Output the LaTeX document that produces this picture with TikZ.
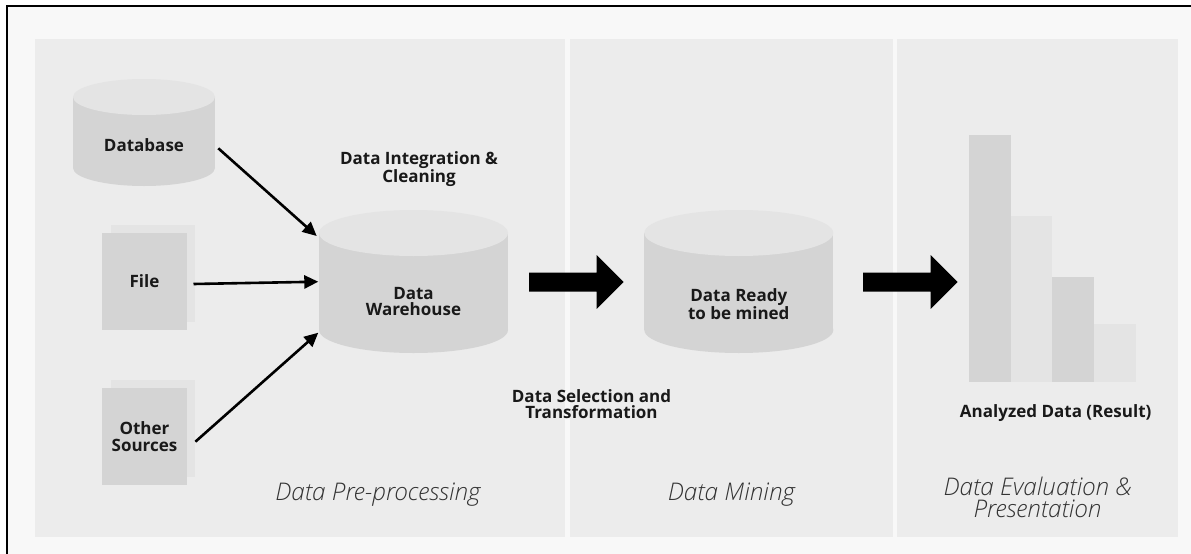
\documentclass[tikz,border=0pt]{standalone}
\usepackage{fontspec}
\setmainfont{Open Sans}
\newfontfamily\thinfont{Open Sans}[UprightFont=* Light, ItalicFont=* Light Italic]
\usetikzlibrary{arrows.meta,calc}

\definecolor{pagebg}{HTML}{F8F8F8}
\definecolor{panelbg}{HTML}{ECECEC}
\definecolor{shapedark}{HTML}{D4D4D4}
\definecolor{shapelight}{HTML}{E4E4E4}

% drum (database) symbol: centre x, top-face centre y, x radius, y radius, bottom-face centre y
\newcommand\drawdrum[5]{%
  \fill[shapedark] ({#1-#3},#2) rectangle ({#1+#3},#5);
  \fill[shapedark] (#1,#5) ellipse[x radius=#3, y radius=#4];
  \fill[shapelight] (#1,#2) ellipse[x radius=#3, y radius=#4];
}
% thick block arrow: left end of shaft, centre y
\newcommand\blockarrow[2]{%
  \fill[black] (#1,{#2-9.5}) -- ({#1+67.7},{#2-9.5}) -- ({#1+67.7},{#2-26.8})
    -- ({#1+94.5},#2) -- ({#1+67.7},{#2+26.8}) -- ({#1+67.7},{#2+9.5})
    -- (#1,{#2+9.5}) -- cycle;
}

\tikzset{
  boldlbl/.style={font=\bfseries\fontsize{17}{16.7}\selectfont, align=center,
    text=black!90, inner sep=0pt},
  stagelbl/.style={font=\thinfont\itshape\fontsize{24.3}{22}\selectfont, align=center,
    text=black!80, inner sep=0pt},
  sheet/.style={fill=shapedark, minimum width=84.4pt, minimum height=97.3pt,
    inner sep=0pt, font=\bfseries\fontsize{17}{16.7}\selectfont, align=center,
    text=black!90},
  feed/.style={line width=2.6pt, -{Triangle[length=14pt,width=13pt]}},
}

\begin{document}
\begin{tikzpicture}[x=1pt,y=-1pt]
  \useasboundingbox (0,0) rectangle (1191,554);
  \fill[white] (0,0) rectangle (1191,554);
  \fill[pagebg] (7,6) rectangle (1191,554);
  \draw[line width=2pt] (7,554) -- (7,6) -- (1191,6);

  % stage panels
  \fill[panelbg] (35,39) rectangle (565,537);
  \fill[panelbg] (570,39) rectangle (893,537);
  \fill[panelbg] (897,39) rectangle (1178,537);

  % sources
  \drawdrum{144}{97}{71}{18}{168}
  \node[boldlbl] (db) at (144,145) {Database};

  \fill[shapelight] (110.7,224.5) rectangle (195.1,321.8);
  \node[sheet] (file) at (144.5,281.4) {File};

  \fill[shapelight] (110.7,380.1) rectangle (195.1,477.4);
  \node[sheet] (other) at (144.5,436.4) {Other\\Sources};

  % warehouse and mining set
  \drawdrum{413.5}{233}{94.5}{23}{330}
  \node[boldlbl] (wh) at (413.5,301.5) {Data\\Warehouse};

  \drawdrum{738.8}{233}{94.5}{23}{330}
  \node[boldlbl] (ready) at (738.8,304.5) {Data Ready\\to be mined};

  % feeds into the warehouse
  \draw[feed] ($(db)+(74.3,3.3)$) -- ($(wh)+(-96.8,-65.5)$);
  \draw[feed] ($(file.east)+(6.6,2.6)$) -- ($(wh)+(-95.2,-19.8)$);
  \draw[feed] ($(other.east)+(8.5,5.3)$) -- ($(wh)+(-95.2,31.2)$);

  % stage transitions
  \blockarrow{529}{282}
  \blockarrow{863}{282}

  % result bar chart
  \fill[shapedark]  (969,135)    rectangle (1010.7,382.3);
  \fill[shapelight] (1010.7,216) rectangle (1052.3,382.3);
  \fill[shapedark]  (1052.3,276.7) rectangle (1094,382.3);
  \fill[shapelight] (1094,324.3) rectangle (1135.7,382.3);

  % step labels
  \node[boldlbl] (integ) at (419,169.2) {Data Integration \&\\Cleaning};
  \node[boldlbl] (select) at (591.5,404) {Data Selection and\\Transformation};
  \node[boldlbl] (result) at (1055.7,413.3) {Analyzed Data (Result)};

  % stage names
  \node[stagelbl] (pre) at (378,495) {Data Pre-processing};
  \node[stagelbl] (mine) at (731.5,495) {Data Mining};
  \node[stagelbl] (eval) at (1037.5,497) {Data Evaluation \&\\Presentation};
\end{tikzpicture}
\end{document}
